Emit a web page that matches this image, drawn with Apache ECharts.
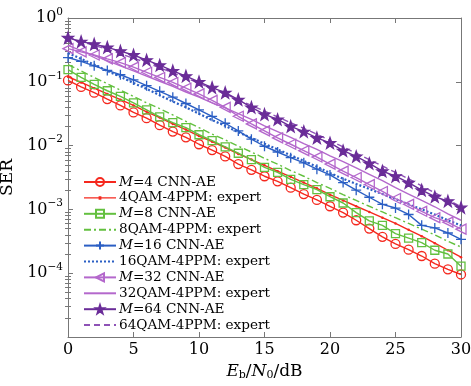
<!DOCTYPE html>
<html>
<head>
<meta charset="utf-8">
<script src="https://cdn.jsdelivr.net/npm/echarts@6/dist/echarts.min.js"></script>
<style>
html,body{margin:0;padding:0;background:#fff;}
#chart{width:471px;height:386px;}
</style>
</head>
<body>
<div id="chart"></div>
<script>
// Eb/N0 in dB
const ebn0 = [0,1,2,3,4,5,6,7,8,9,10,11,12,13,14,15,16,17,18,19,20,21,22,23,24,25,26,27,28,29,30];

const serM4cnn = [0.105,0.0832,0.0676,0.0537,0.0427,0.0331,0.0269,0.0209,0.0166,0.0135,0.0105,0.00851,0.00676,0.00513,0.00417,0.00331,0.00275,0.00219,0.00174,0.00141,0.00112,0.000891,0.000676,0.000501,0.000372,0.000288,0.000234,0.000186,0.000141,0.000115,0.0000955];
const ser4qam = [0.120,0.0977,0.0794,0.0646,0.0525,0.0427,0.0339,0.0275,0.0219,0.0178,0.0141,0.0115,0.00933,0.00741,0.00603,0.00490,0.00398,0.00324,0.00263,0.00214,0.00170,0.00138,0.00112,0.000912,0.000741,0.000603,0.000479,0.000380,0.000295,0.000229,0.000178];
const serM8cnn = [0.155,0.117,0.0912,0.0724,0.0589,0.0468,0.0363,0.0282,0.0229,0.0191,0.0148,0.0120,0.00955,0.00759,0.00603,0.00457,0.00380,0.00295,0.00245,0.00204,0.00158,0.00126,0.000891,0.000661,0.000562,0.000417,0.000355,0.000302,0.000229,0.000200,0.000129];
const ser8qam = [0.186,0.148,0.117,0.0933,0.0741,0.0589,0.0468,0.0380,0.0302,0.0240,0.0191,0.0151,0.0123,0.00977,0.00794,0.00631,0.00513,0.00407,0.00331,0.00263,0.00214,0.00170,0.00138,0.00112,0.000912,0.000741,0.000603,0.000490,0.000398,0.000316,0.000257];
const serM16cnn = [0.240,0.209,0.178,0.151,0.129,0.107,0.0871,0.0708,0.0575,0.0457,0.0363,0.0288,0.0224,0.0170,0.0126,0.00977,0.00794,0.00646,0.00537,0.00427,0.00347,0.00263,0.00200,0.00155,0.00120,0.00105,0.000832,0.000562,0.000513,0.000427,0.000339];
const ser16qam = [0.282,0.229,0.186,0.148,0.120,0.0955,0.0776,0.0617,0.0490,0.0398,0.0316,0.0251,0.0204,0.0162,0.0132,0.0107,0.00871,0.00708,0.00575,0.00468,0.00372,0.00302,0.00251,0.00209,0.00174,0.00145,0.00120,0.00100,0.000832,0.000676,0.000562];
const serM32cnn = [0.331,0.295,0.263,0.229,0.200,0.170,0.141,0.117,0.0977,0.0794,0.0646,0.0513,0.0398,0.0288,0.0219,0.0170,0.0132,0.0105,0.00832,0.00661,0.00513,0.00398,0.00316,0.00245,0.00191,0.00148,0.00120,0.000933,0.000741,0.000631,0.000490];
const ser32qam = [0.372,0.309,0.257,0.214,0.178,0.148,0.123,0.102,0.0851,0.0692,0.0575,0.0468,0.0389,0.0316,0.0257,0.0204,0.0166,0.0135,0.0107,0.00871,0.00692,0.00562,0.00447,0.00355,0.00282,0.00219,0.00174,0.00138,0.00110,0.000851,0.000676];
const serM64cnn = [0.490,0.427,0.389,0.347,0.302,0.263,0.219,0.182,0.148,0.123,0.100,0.0813,0.0676,0.0525,0.0398,0.0309,0.0257,0.0200,0.0166,0.0132,0.0110,0.00832,0.00676,0.00525,0.00398,0.00331,0.00263,0.00200,0.00158,0.00135,0.00107];
const ser64qam = [0.501,0.427,0.372,0.324,0.275,0.234,0.200,0.166,0.138,0.115,0.0955,0.0776,0.0646,0.0525,0.0427,0.0347,0.0282,0.0229,0.0186,0.0151,0.0120,0.00955,0.00759,0.00603,0.00479,0.00380,0.00302,0.00234,0.00182,0.00141,0.00110];

const seriesNames = ['M=4 CNN-AE','4QAM-4PPM: expert','M=8 CNN-AE','8QAM-4PPM: expert','M=16 CNN-AE','16QAM-4PPM: expert','M=32 CNN-AE','32QAM-4PPM: expert','M=64 CNN-AE','64QAM-4PPM: expert'];
const xTicks = [0,5,10,15,20,25,30];
const yMajor = [1e-5,1e-4,1e-3,1e-2,1e-1,1];

const minorVals = [];
for (let e = -5; e < 0; e++) for (let k = 2; k <= 9; k++) minorVals.push(+(k * Math.pow(10, e)).toPrecision(3));

const FONT = 'DejaVu Serif';
const C = {red:'#f5281e', green:'#63c03f', blue:'#2b5fc4', lpur:'#b468cc', dpur:'#6a2c98', mpur:'#8e52b6'};

function pairs(arr){ return ebn0.map((x,i)=>[x,arr[i]]); }

const STAR = 'path://M0,-10L2.35,-3.24L9.51,-3.09L3.8,1.24L5.88,8.09L0,4L-5.88,8.09L-3.8,1.24L-9.51,-3.09L-2.35,-3.24Z';
const PLUS = 'path://M-5,0L5,0M0,-5L0,5';
const TRI_L = 'path://M-5,0L5,-5.5L5,5.5Z';
const LINE_DOT = 'path://M0,1.25L32,1.25L32,2.65L0,2.65Z M14.6,0.2L17.4,0.2L17.4,3.7L14.6,3.7Z';

function cnn(name, data, color, symbol, size, filled){
  return {
    name, type:'line', data: pairs(data), symbol, symbolSize: size,
    lineStyle:{color, width:1.4},
    itemStyle:{color: filled ? color : 'rgba(0,0,0,0)', borderColor: color, borderWidth: 1.3},
    showSymbol: true, z: 3
  };
}
function expert(name, data, color, type, width, sym){
  return {
    name, type:'line', data: pairs(data),
    symbol: sym ? 'circle' : 'none', symbolSize: sym ? 2.5 : 0,
    lineStyle:{color, width, type},
    itemStyle:{color, borderColor: color, borderWidth: 0},
    z: 2
  };
}

const series = [
  cnn(seriesNames[0], serM4cnn, C.red, 'circle', 9, false),
  expert(seriesNames[1], ser4qam, C.red, 'solid', 1.4, true),
  cnn(seriesNames[2], serM8cnn, C.green, 'rect', 8, false),
  expert(seriesNames[3], ser8qam, C.green, [7,3,2,3], 1.4, false),
  cnn(seriesNames[4], serM16cnn, C.blue, PLUS, 10, true),
  expert(seriesNames[5], ser16qam, C.blue, [2,2], 2.2, false),
  cnn(seriesNames[6], serM32cnn, C.lpur, TRI_L, 10, false),
  expert(seriesNames[7], ser32qam, C.lpur, 'solid', 1.4, false),
  cnn(seriesNames[8], serM64cnn, C.dpur, STAR, 11, true),
  expert(seriesNames[9], ser64qam, C.mpur, [6,4], 1.4, false)
];

const hiddenSym = {color:'rgba(0,0,0,0)', borderColor:'rgba(0,0,0,0)', borderWidth:0};
const legendData = seriesNames.map(function(n, i){
  if (i === 1) return {name:n, icon: LINE_DOT};
  if (i % 2 === 1) return {name:n, itemStyle: hiddenSym};
  return {name:n};
});

const axisLineStyle = {color:'#777', width:1};

function yAx(opts){
  return Object.assign({
    type:'log', logBase:10, min:1e-5, max:1, interval:1,
    axisLine:{show:true, onZero:false, lineStyle:axisLineStyle},
    splitLine:{show:false}, minorTick:{show:false}
  }, opts);
}

const chart = echarts.init(document.getElementById('chart'), null, {renderer:'canvas'});
chart.setOption({
  backgroundColor:'#fff',
  animation:false,
  grid:{left:68, right:10, top:18, bottom:49, containLabel:false, outerBoundsMode:'none'},
  xAxis:[
    {type:'value', min:0, max:30, interval:5, position:'bottom',
     axisLine:{show:true, onZero:false, lineStyle:axisLineStyle},
     axisTick:{show:true, inside:true, length:5, lineStyle:axisLineStyle},
     splitLine:{show:false},
     axisLabel:{color:'#000', fontFamily:FONT, fontSize:16, margin:5,
       customValues: xTicks},
     name:'{i|E}{sub|b}{n|/}{i|N}{sub|0}{n|/dB}', nameLocation:'middle', nameGap:20,
     nameTextStyle:{color:'#000', rich:{
       i:{fontFamily:FONT, fontStyle:'italic', fontSize:17, color:'#000'},
       n:{fontFamily:FONT, fontSize:17, color:'#000'},
       sub:{fontFamily:FONT, fontSize:11, color:'#000', padding:[8,0,0,0]}
     }}
    },
    {type:'value', min:0, max:30, interval:5, position:'top',
     axisLine:{show:true, onZero:false, lineStyle:axisLineStyle},
     axisTick:{show:true, inside:true, length:5, lineStyle:axisLineStyle},
     axisLabel:{show:false}, splitLine:{show:false}}
  ],
  yAxis:[
    yAx({position:'left',
      axisTick:{show:true, inside:true, length:5, lineStyle:axisLineStyle},
      axisLabel:{show:true, margin:5, color:'#000',
        formatter:function(v){
          const e = Math.round(Math.log10(v));
          if (e < -4) return '';
          return '{b|10}{s|' + (e === 0 ? '0' : '\u2212' + (-e)) + '}';
        },
        rich:{
          b:{fontFamily:FONT, fontSize:16, color:'#000'},
          s:{fontFamily:FONT, fontSize:10.5, color:'#000', padding:[0,0,12,0]}
        }},
      name:'SER', nameLocation:'middle', nameGap:42, nameRotate:90,
      nameTextStyle:{fontFamily:FONT, fontSize:17, color:'#000'}
    }),
    yAx({position:'left',
      axisLine:{show:false},
      axisTick:{show:true, inside:true, length:3, lineStyle:axisLineStyle, customValues:minorVals},
      axisLabel:{show:false}}),
    yAx({position:'right',
      axisTick:{show:true, inside:true, length:5, lineStyle:axisLineStyle, customValues:yMajor},
      axisLabel:{show:false}}),
    yAx({position:'right',
      axisLine:{show:false},
      axisTick:{show:true, inside:true, length:3, lineStyle:axisLineStyle, customValues:minorVals},
      axisLabel:{show:false}})
  ],
  legend:{
    orient:'vertical', left:83, top:175, padding:0,
    itemWidth:32, itemHeight:10, itemGap:1.9, selectedMode:false,
    data: legendData,
    formatter:function(name){
      if (name.indexOf('M=') === 0) return '{i|M}{n|' + name.slice(1) + '}';
      return '{n|' + name + '}';
    },
    textStyle:{lineHeight:13, padding:[0,0,0,-2], rich:{
      i:{fontFamily:FONT, fontStyle:'italic', fontSize:13.6, color:'#000', lineHeight:13, height:13},
      n:{fontFamily:FONT, fontSize:13.6, color:'#000', lineHeight:13, height:13}
    }}
  },
  series: series
});
</script>
</body>
</html>
